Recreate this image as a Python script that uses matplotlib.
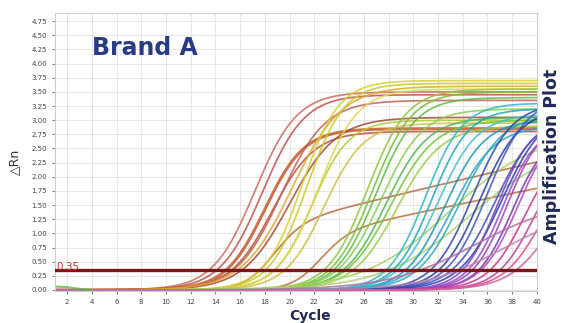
import numpy as np
import matplotlib.pyplot as plt

# Параметри кривих ампліфікації:
# середина (цикл), плато (ΔRn), крутизна, дрейф після плато, колір
mids = [17.2, 17.8, 18.0, 18.6, 19.3, 20.0,
        18.5, 22.3,
        20.2, 21.0, 21.4, 21.8, 22.3, 22.8,
        26.3, 26.7, 27.0, 27.4, 27.8, 28.2, 28.7, 33.0, 34.5,
        31.0, 31.5, 32.0, 32.6, 33.2, 33.8,
        34.8, 35.4, 36.0, 36.6, 37.2,
        36.8, 37.2, 37.6, 38.0, 38.5,
        39.0, 39.8, 40.5, 41.5, 37.0, 35.0]
plateaus = [3.50, 3.45, 2.85, 2.80, 3.35, 3.05,
            1.15, 1.00,
            3.60, 3.70, 3.65, 3.00, 3.55, 2.95,
            3.55, 3.50, 3.40, 3.20, 3.05, 3.00, 2.90, 2.80, 2.60,
            3.30, 3.20, 3.10, 3.00, 2.90, 3.10,
            3.30, 3.20, 3.40, 3.10, 3.20,
            3.00, 2.90, 3.00, 2.80, 3.00,
            2.60, 2.60, 2.50, 2.40, 1.40, 1.60]
slopes = [1.7, 1.7, 1.6, 1.7, 1.8, 1.9,
          1.2, 1.2,
          2.0, 1.5, 1.5, 1.5, 1.6, 1.6,
          1.6, 1.6, 1.6, 1.7, 1.7, 1.8, 1.8, 3.5, 3.5,
          1.5, 1.5, 1.6, 1.6, 1.7, 1.7,
          1.6, 1.6, 1.6, 1.7, 1.7,
          1.4, 1.4, 1.4, 1.4, 1.5,
          1.5, 1.5, 1.6, 1.8, 3.0, 3.5]
drifts = [0, 0, 0, 0, 0, 0,
          0.045, 0.045,
          0, 0, 0, 0, 0, 0,
          0, 0, 0, 0, 0, 0, 0, 0, 0,
          0, 0, 0, 0, 0, 0,
          0, 0, 0, 0, 0,
          0, 0, 0, 0, 0,
          0, 0, 0, 0, 0, 0]
colors = ["#cc6b5e", "#c0504d", "#c45a2a", "#b5533c", "#c0605a", "#a8483a",
          "#b86a40", "#c0703a",
          "#e0a830", "#d8d030", "#c8cc2c", "#b8c830", "#e0d850", "#d0c040",
          "#8cc83c", "#78c040", "#60bc48", "#88d050", "#50b850", "#70c838", "#9ccc48", "#a8d060", "#b0d070",
          "#30b8c8", "#20a8c0", "#40c0d0", "#1898b8", "#30a0d8", "#28b0b0",
          "#3048a8", "#2838a0", "#4058b8", "#3850c0", "#2840b0",
          "#8040c0", "#9050c8", "#a040c0", "#7038b0", "#b048c0",
          "#d03090", "#c04098", "#e05090", "#d060a0", "#c080b0", "#b070a0"]

# Невеликий зелений фон на перших циклах
early_cycles = [1, 2, 3, 4]
early_green = [0.06, 0.05, 0.02, 0.0]

threshold = 0.35
x_ticks = list(range(2, 41, 2))
y_ticks = [i * 0.25 for i in range(20)]

fig = plt.figure(figsize=(5.62, 3.23), dpi=100)
ax = fig.add_axes([0.0973, 0.0988, 0.858, 0.862])

cycles = np.linspace(1, 40, 400)
for m, p, s, d, c in zip(mids, plateaus, slopes, drifts, colors):
    y = p / (1 + np.exp(-(cycles - m) / s)) * (1 + d * (cycles - m))
    lw = 2.2 if c == "#c45a2a" else 1.25
    ax.plot(cycles, y, color=c, lw=lw, alpha=0.85)

ax.plot(early_cycles, early_green, color="#60b848", lw=1.5, alpha=0.8)

ax.axhline(threshold, color="#7d1616", lw=2.4, zorder=5)
ax.text(1.1, threshold + 0.01, "0.35", color="#c0392b", fontsize=7.5, zorder=6)

ax.set_xlim(1, 40)
ax.set_ylim(-0.02, 4.9)
ax.set_xticks(x_ticks)
ax.set_yticks(y_ticks)
ax.set_yticklabels([f"{v:.2f}" for v in y_ticks])
ax.tick_params(labelsize=5, colors="#444444", length=2, width=0.5)
ax.grid(True, color="#e6e6e6", lw=0.7)
ax.set_axisbelow(True)
for sp in ax.spines.values():
    sp.set_color("#cccccc")

fig.text(0.164, 0.851, "Brand A", fontsize=17, fontweight="bold",
         color="#283c85", family="DejaVu Sans", va="center")
fig.text(0.552, 0.022, "Cycle", fontsize=10, fontweight="bold",
         color="#1f2a55", family="DejaVu Sans", ha="center", va="center")
fig.text(0.027, 0.5, "△Rn", fontsize=9, color="#333333",
         rotation=90, ha="center", va="center")
fig.text(0.982, 0.517, "Amplification Plot", fontsize=12.5, fontweight="bold",
         color="#1f2a55", family="DejaVu Sans", rotation=90, ha="center", va="center")

fig.savefig("out.png", dpi=100)
